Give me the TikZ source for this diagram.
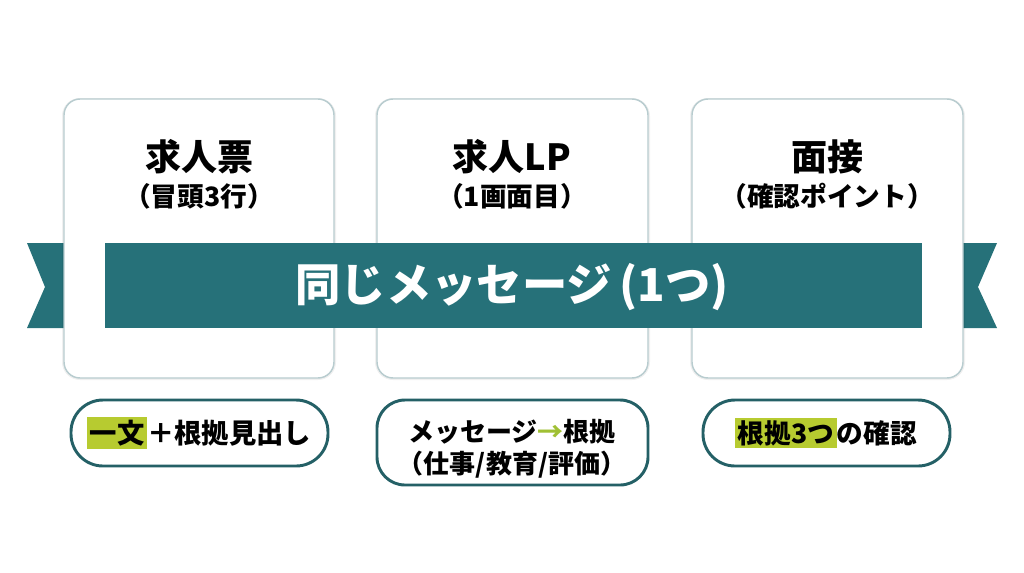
\documentclass[tikz,border=0pt]{standalone}
\usepackage{fontspec}
\setmainfont{Noto Sans CJK JP}
\usepackage{xcolor}
\definecolor{ribbonTeal}{RGB}{38,113,121}
\definecolor{pillTeal}{RGB}{36,96,102}
\definecolor{cardEdge}{RGB}{184,204,207}
\definecolor{markGreen}{RGB}{183,203,48}
\definecolor{arrowGreen}{RGB}{160,192,52}
\newcommand{\hlmark}[1]{{\setlength{\fboxsep}{2pt}\colorbox{markGreen}{#1}}}

\tikzset{every picture/.style={line width=0.75pt}}

\begin{document}
\begin{tikzpicture}[x=0.75pt,y=0.75pt,yscale=-1,xscale=1]
%set diagram size 1024 x 572
\path [use as bounding box, fill=white] (0,0) rectangle (1024,572);

%Shape: Ribbon tail left [id:tl01]
\fill [ribbonTeal] (27,243) -- (110,243) -- (110,328) -- (27,328) -- (45,287) -- cycle ;
%Shape: Ribbon tail right [id:tr01]
\fill [ribbonTeal] (915,243) -- (997,243) -- (978,287) -- (997,328) -- (915,328) -- cycle ;

%Rounded Rect [id:card01]
\draw [black, draw opacity=0.06, line width=3pt, rounded corners=12pt] (64,100) rectangle (334,378) ;
\draw [cardEdge, fill=white, line width=1.1pt, rounded corners=12pt] (64,99) rectangle (334,378) ;
%Rounded Rect [id:card02]
\draw [black, draw opacity=0.06, line width=3pt, rounded corners=12pt] (377,100) rectangle (648,378) ;
\draw [cardEdge, fill=white, line width=1.1pt, rounded corners=12pt] (377,99) rectangle (648,378) ;
%Rounded Rect [id:card03]
\draw [black, draw opacity=0.06, line width=3pt, rounded corners=12pt] (692,100) rectangle (963,378) ;
\draw [cardEdge, fill=white, line width=1.1pt, rounded corners=12pt] (692,99) rectangle (963,378) ;

%Shape: Ribbon band [id:band01]
\fill [ribbonTeal] (105,243) rectangle (922,328) ;

% Text Node
\draw (199,157) node [inner sep=0.75pt] [font=\fontsize{27}{30}\selectfont\bfseries] (titleA) {求人票};
% Text Node
\draw (199,196) node [inner sep=0.75pt] [font=\fontsize{20}{22}\selectfont\bfseries] (subA) {（冒頭3行）};
% Text Node
\draw (512,157) node [inner sep=0.75pt] [font=\fontsize{27}{30}\selectfont\bfseries] (titleB) {求人LP};
% Text Node
\draw (512,196) node [inner sep=0.75pt] [font=\fontsize{20}{22}\selectfont\bfseries] (subB) {（1画面目）};
% Text Node
\draw (827,157) node [inner sep=0.75pt] [font=\fontsize{27}{30}\selectfont\bfseries] (titleC) {面接};
% Text Node
\draw (827,196) node [inner sep=0.75pt] [font=\fontsize{20}{22}\selectfont\bfseries] (subC) {（確認ポイント）};
% Text Node
\draw (512,287) node [inner sep=0.75pt] [color=white, font=\fontsize{34}{36}\selectfont\bfseries] (bannerText) {同じメッセージ\,(1つ)};

%Rounded Rect [id:pill01]
\draw [pillTeal, fill=white, line width=2.2pt, rounded corners=24pt] (71,400) rectangle (328,466) ;
%Rounded Rect [id:pill02]
\draw [pillTeal, fill=white, line width=2.2pt, rounded corners=21pt] (377,400) rectangle (648,485) ;
%Rounded Rect [id:pill03]
\draw [pillTeal, fill=white, line width=2.2pt, rounded corners=24pt] (703,400) rectangle (950,466) ;

% Text Node
\draw (199,433) node [inner sep=0.75pt] [font=\fontsize{20.5}{24}\selectfont\bfseries] (noteA) {\hlmark{一文}＋根拠見出し};
% Text Node
\draw (512,449) node [inner sep=0.75pt] [align=center, font=\fontsize{19.5}{24}\selectfont\bfseries] (noteB) {メッセージ\textcolor{arrowGreen}{→}根拠\\（仕事/教育/評価）};
% Text Node
\draw (826,433) node [inner sep=0.75pt] [font=\fontsize{20}{24}\selectfont\bfseries] (noteC) {\hlmark{根拠3つ}の確認};
\end{tikzpicture}
\end{document}
